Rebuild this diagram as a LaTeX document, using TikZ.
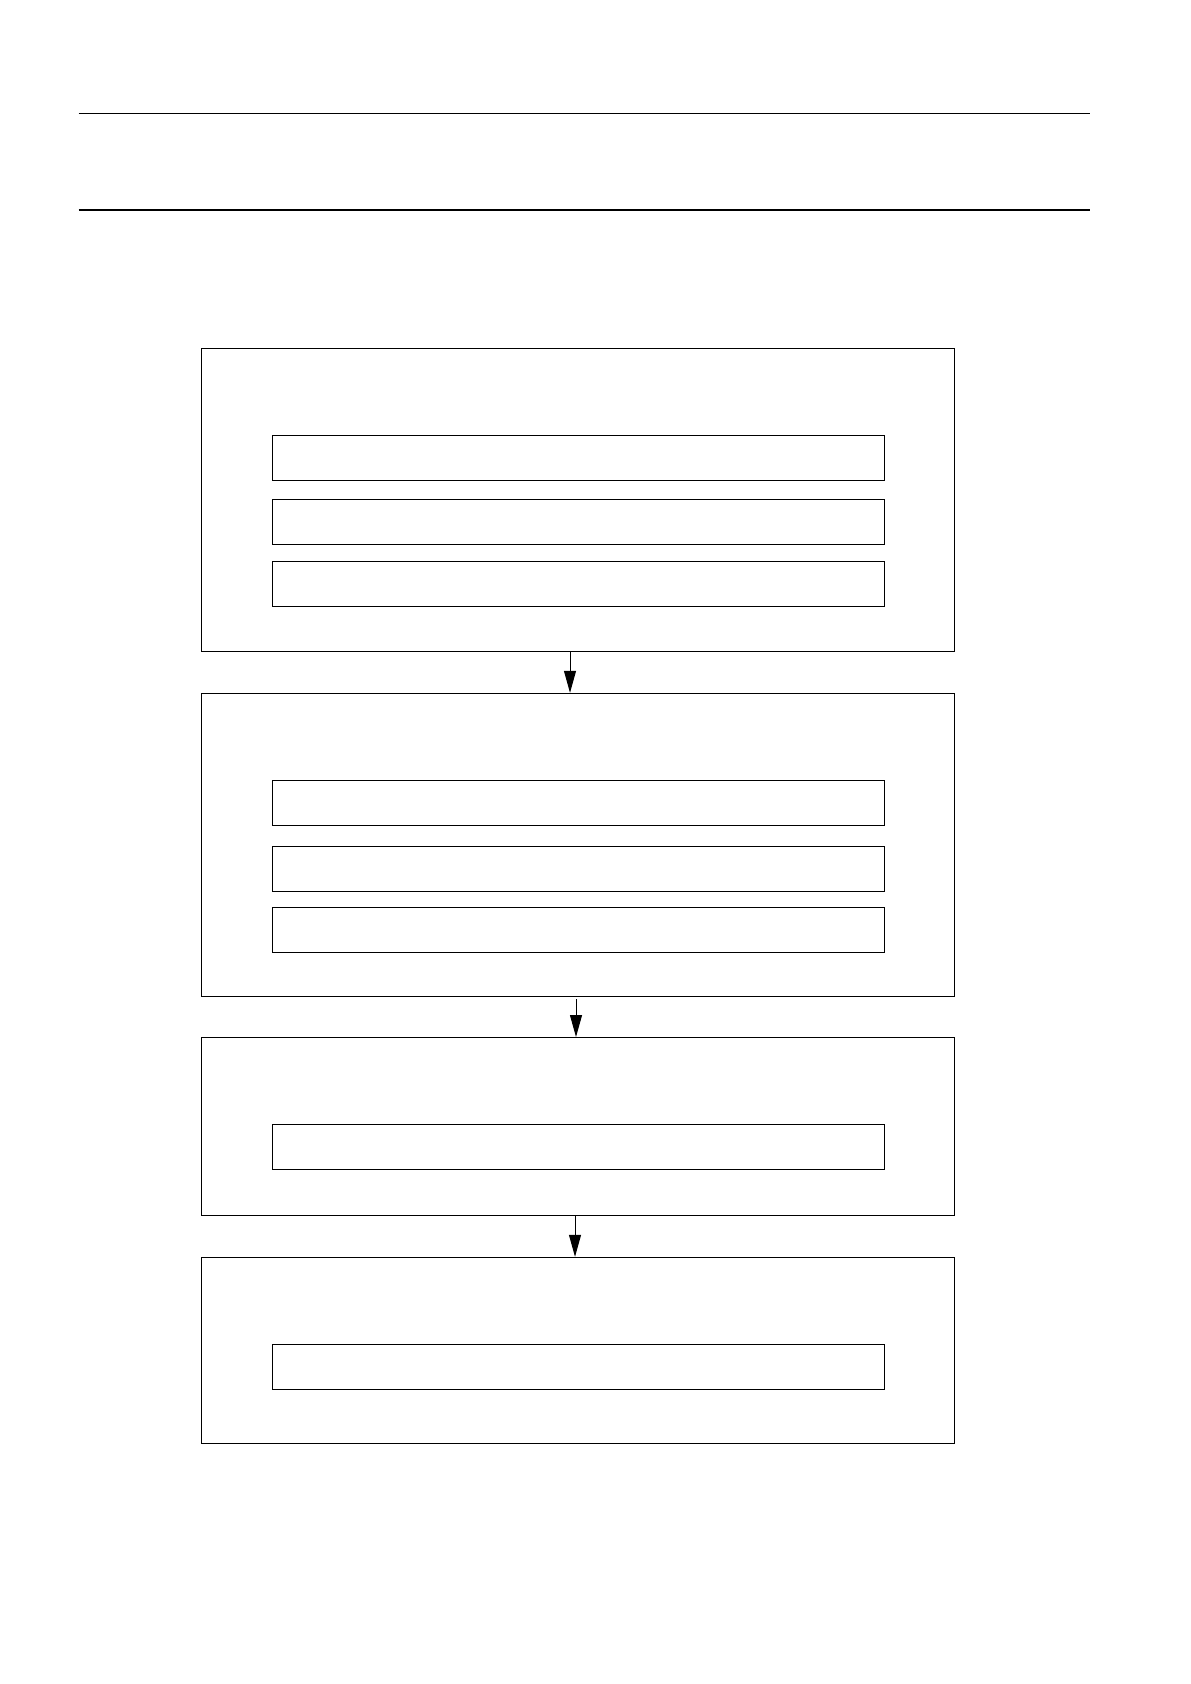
\documentclass[tikz,border=0pt]{standalone}
\usetikzlibrary{arrows.meta}
\begin{document}
\begin{tikzpicture}[x = 0.5pt, y = -0.5pt, line width = 0.5pt,
		outer/.style = {draw, inner sep = 0pt, minimum width = 376.8pt},
		inner/.style = {draw, inner sep = 0pt, minimum width = 306.4pt, minimum height = 22.5pt},
		arr/.style = {-{Triangle[length = 11pt, width = 6pt]}}]
		\useasboundingbox (0,0) rectangle (1190,1684);
		\draw (78.5,113.4) -- (1090,113.4);
		\draw[line width = 0.9pt] (78.5,210.4) -- (1090,210.4);
		% the four stages
		\node[outer, minimum height = 151.4pt] (st1) at (577.8,499.7) {};
		\node[outer, minimum height = 151.6pt] (st2) at (577.8,844.9) {};
		\node[outer, minimum height = 88.8pt] (st3) at (577.8,1126.3) {};
		\node[outer, minimum height = 93.1pt] (st4) at (577.8,1350.4) {};
		% inner boxes
		\node[inner] (st1a) at (578.4,457.8) {};
		\node[inner] (st1b) at (578.4,521.8) {};
		\node[inner] (st1c) at (578.4,583.8) {};
		\node[inner] (st2a) at (578.4,803) {};
		\node[inner] (st2b) at (578.4,868.5) {};
		\node[inner] (st2c) at (578.4,929.8) {};
		\node[inner] (st3a) at (578.4,1146.8) {};
		\node[inner] (st4a) at (578.4,1366.8) {};
		\draw[arr] ([xshift = -3.9pt]st1.south) -- ([xshift = -3.9pt]st2.north);
		\draw[arr] ([xshift = -0.9pt, yshift = -1.2pt]st2.south) -- ([xshift = -0.9pt]st3.north);
		\draw[arr] ([xshift = -1.4pt]st3.south) -- ([xshift = -1.4pt]st4.north);
	\end{tikzpicture}
\end{document}
